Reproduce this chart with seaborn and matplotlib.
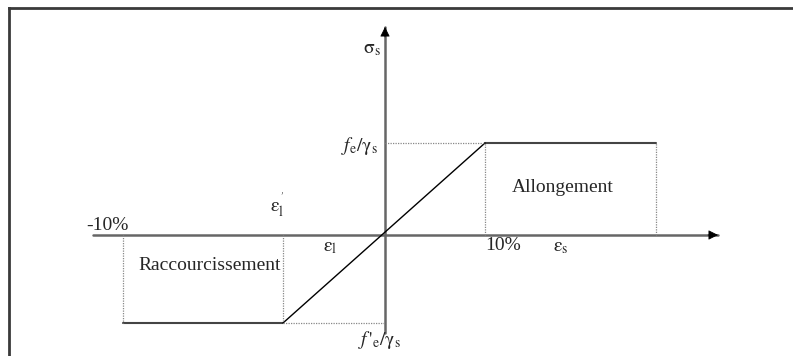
import matplotlib
matplotlib.use("Agg")
import matplotlib.pyplot as plt
import seaborn as sns
import pandas as pd

# chart units: 1 unit = schematic strain / stress step (diagram not to scale)
strain_pts = [-26.2, -10.2, 10.0, 27.1]      # -10%, eps'_l, 10% (eps_l side), end of plateau
stress_pts = [-8.8, -8.8, 9.2, 9.2]           # f'e/gs, f'e/gs, fe/gs, fe/gs
x_axis_range = [-29.2, 33.3]
y_axis_range = [-9.8, 20.8]
zone_labels = ["Raccourcissement", "Allongement"]
tick_labels = ["-10%", "10%"]

sns.set_style("white")
plt.rcParams["font.family"] = ["Liberation Serif", "DejaVu Serif"]
plt.rcParams["mathtext.fontset"] = "stix"

fig = plt.figure(figsize=(7.93, 3.56), dpi=100)
ax = fig.add_axes([9 / 793, 0, 784 / 793, 348 / 356])
ax.set_xlim(-37.6, 40.8)
ax.set_ylim(-12.1, 22.7)
ax.set_xticks([])
ax.set_yticks([])
for s in ["right", "bottom"]:
    ax.spines[s].set_visible(False)
for s in ["left", "top"]:
    ax.spines[s].set_color("#3a3a3a")
    ax.spines[s].set_linewidth(2)

# axes: grey shafts, black arrow heads
ax.plot(x_axis_range, [0, 0], color="#666666", lw=1.8)
ax.plot([0, 0], y_axis_range, color="#666666", lw=1.8)
ax.annotate("", xy=(x_axis_range[1], 0), xytext=(x_axis_range[1] - 1.0, 0),
            arrowprops=dict(arrowstyle="-|>", color="black", lw=0.5,
                            mutation_scale=15, shrinkA=0, shrinkB=0))
ax.annotate("", xy=(0, y_axis_range[1]), xytext=(0, y_axis_range[1] - 1.0),
            arrowprops=dict(arrowstyle="-|>", color="black", lw=0.5,
                            mutation_scale=15, shrinkA=0, shrinkB=0))

# stress-strain curve
df = pd.DataFrame({"strain": strain_pts, "stress": stress_pts})
sns.lineplot(data=df.iloc[:2], x="strain", y="stress", color="#444444", lw=1.5, ax=ax, sort=False)
sns.lineplot(data=df.iloc[2:], x="strain", y="stress", color="#444444", lw=1.5, ax=ax, sort=False)
sns.lineplot(data=df.iloc[1:3], x="strain", y="stress", color="black", lw=1.0, ax=ax, sort=False)
ax.set_xlabel("")
ax.set_ylabel("")

# dotted guides
dot = dict(color="#888888", lw=0.9, ls=(0, (1, 1)))
for xs, ys in zip(strain_pts, stress_pts):
    ax.plot([xs, xs], [0, ys], **dot)
ax.plot([0, strain_pts[2]], [stress_pts[2], stress_pts[2]], **dot)
ax.plot([strain_pts[1], 0], [stress_pts[1], stress_pts[1]], **dot)

fs = 14
ax.text(-0.4, 18.5, r"$\mathrm{σ}_\mathrm{s}$", ha="right", va="center", fontsize=fs)
ax.text(-0.7, 8.9, r"$f_\mathrm{e}/\mathrm{γ}_\mathrm{s}$", ha="right", va="center", fontsize=fs)
ax.text(-0.5, -10.5, r"$f\,'_\mathrm{e}/\mathrm{γ}_\mathrm{s}$", ha="center", va="center", fontsize=fs)
ax.text(-27.8, 0.9, tick_labels[0], ha="center", va="center", fontsize=fs)
ax.text(11.8, -1.1, tick_labels[1], ha="center", va="center", fontsize=fs)
ax.text(-10.8, 3.0, r"$\mathrm{ε}^{\,'}_\mathrm{l}$", ha="center", va="center", fontsize=fs)
ax.text(-5.5, -1.3, r"$\mathrm{ε}_\mathrm{l}$", ha="center", va="center", fontsize=fs)
ax.text(17.6, -1.3, r"$\mathrm{ε}_\mathrm{s}$", ha="center", va="center", fontsize=fs)
ax.text(-17.5, -3.1, zone_labels[0], ha="center", va="center", fontsize=fs)
ax.text(17.8, 4.7, zone_labels[1], ha="center", va="center", fontsize=fs)

fig.savefig("out.png", dpi=100)
